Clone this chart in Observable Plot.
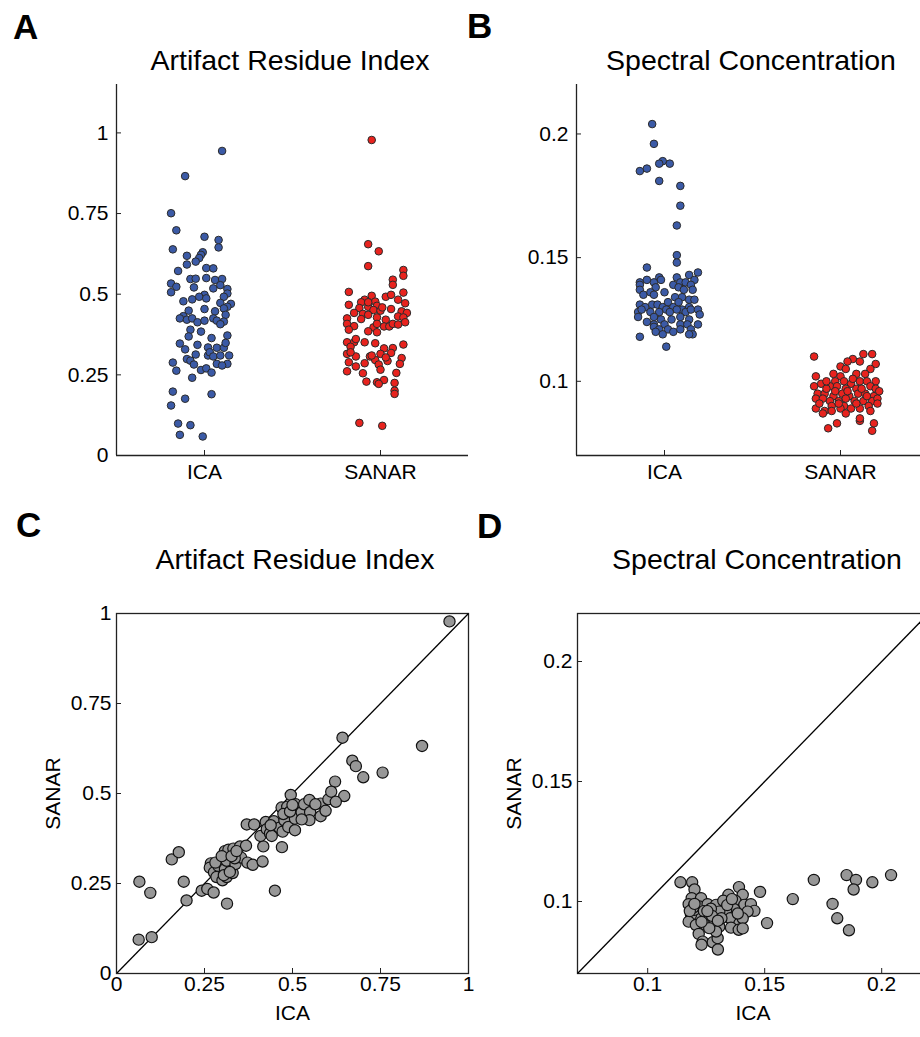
<!DOCTYPE html>
<html>
<head>
<meta charset="utf-8">
<script src="https://cdn.jsdelivr.net/npm/d3@7"></script>
<script src="https://cdn.jsdelivr.net/npm/@observablehq/plot@0.6"></script>
<style>
  html, body { margin: 0; padding: 0; background: #fff; overflow: hidden; }
  #fig { position: relative; width: 920px; height: 1037px; overflow: hidden;
         font-family: "Liberation Sans", Arial, Helvetica, sans-serif; color: #000; }
  .panel { position: absolute; }
  .letter { position: absolute; font-weight: bold; font-size: 35px; line-height: 1; }
  .title { position: absolute; font-size: 28.5px; line-height: 1; white-space: nowrap; transform: translateX(-50%); }
</style>
</head>
<body>
<div id="fig"></div>
<script>
// Method names on the category axis
const methods = ["ICA", "SANAR"];

// Artifact Residue Index per recording: [value, horizontal jitter]
const ariIca = [
  [0.944,0.10],[0.866,-0.11],[0.751,-0.19],[0.698,-0.16],[0.678,0.00],[0.668,0.08],[0.645,0.08],[0.639,-0.18],
  [0.630,-0.01],[0.622,-0.02],[0.619,-0.10],[0.612,-0.03],[0.601,-0.05],[0.592,-0.10],[0.581,0.01],[0.580,0.05],
  [0.572,-0.15],[0.547,-0.08],[0.548,-0.05],[0.550,0.01],[0.544,0.06],[0.547,0.10],[0.533,-0.19],[0.523,-0.16],
  [0.506,-0.19],[0.521,-0.06],[0.518,0.05],[0.528,0.09],[0.516,0.13],[0.502,0.13],[0.498,0.00],[0.492,-0.03],
  [0.484,-0.07],[0.487,0.01],[0.492,0.11],[0.478,-0.12],[0.473,0.09],[0.470,0.15],[0.461,0.13],[0.456,0.11],
  [0.449,-0.09],[0.447,0.06],[0.454,0.00],[0.436,0.12],[0.432,-0.12],[0.425,-0.14],[0.421,-0.10],[0.425,-0.07],
  [0.413,-0.04],[0.418,0.00],[0.425,0.05],[0.418,0.07],[0.415,0.11],[0.407,0.09],[0.390,-0.08],[0.369,-0.09],
  [0.384,-0.02],[0.372,0.13],[0.364,0.04],[0.347,-0.14],[0.329,-0.11],[0.343,-0.04],[0.335,0.02],[0.334,0.07],
  [0.334,0.11],[0.349,0.12],[0.299,-0.10],[0.313,-0.05],[0.310,0.02],[0.320,0.03],[0.307,0.05],[0.294,-0.08],
  [0.282,-0.06],[0.310,0.09],[0.310,0.14],[0.284,0.13],[0.284,0.07],[0.279,0.10],[0.288,-0.18],[0.263,-0.16],
  [0.265,-0.02],[0.270,0.01],[0.257,0.04],[0.241,-0.07],[0.198,-0.18],[0.190,0.04],[0.176,-0.11],[0.155,-0.19],
  [0.099,-0.15],[0.094,-0.08],[0.064,-0.14],[0.059,-0.01]
];
const ariSanar = [
  [0.978,-0.05],[0.655,-0.07],[0.633,-0.01],[0.587,-0.07],[0.575,0.13],[0.557,0.13],[0.545,0.07],[0.529,0.07],
  [0.507,-0.18],[0.505,0.13],[0.495,-0.05],[0.492,0.03],[0.498,0.06],[0.483,-0.09],[0.477,-0.03],[0.483,0.10],
  [0.475,-0.11],[0.467,-0.18],[0.472,0.14],[0.457,-0.12],[0.461,-0.07],[0.464,-0.02],[0.451,-0.04],[0.449,0.00],
  [0.454,0.06],[0.447,0.12],[0.442,0.15],[0.442,-0.15],[0.439,-0.10],[0.436,-0.07],[0.428,-0.02],[0.425,-0.19],
  [0.421,0.03],[0.431,0.10],[0.428,0.13],[0.408,-0.19],[0.401,-0.15],[0.397,-0.04],[0.400,0.02],[0.400,0.05],
  [0.408,0.07],[0.406,0.10],[0.413,0.14],[0.390,-0.18],[0.385,-0.07],[0.382,-0.02],[0.351,-0.19],[0.351,-0.15],
  [0.351,-0.09],[0.348,-0.03],[0.344,0.13],[0.337,-0.17],[0.332,0.02],[0.333,0.07],[0.315,-0.19],[0.307,-0.14],
  [0.307,-0.06],[0.315,0.00],[0.318,0.06],[0.289,-0.18],[0.286,-0.09],[0.296,-0.03],[0.282,-0.01],[0.293,0.04],
  [0.302,0.12],[0.284,0.11],[0.276,-0.14],[0.261,-0.19],[0.266,0.00],[0.255,-0.10],[0.256,0.09],[0.229,-0.08],
  [0.227,-0.02],[0.234,0.02],[0.222,-0.01],[0.225,0.08],[0.201,0.08],[0.191,0.08],[0.101,-0.12],[0.092,0.01],
  [0.475,-0.07],[0.361,-0.14],[0.310,-0.05],[0.304,0.03],[0.320,-0.17],[0.408,-0.02],[0.423,-0.11],[0.459,0.01]
];

// Spectral Concentration per recording: [value, horizontal jitter]
const scIca = [
  [0.204,-0.07],[0.196,-0.06],[0.189,-0.01],[0.188,-0.03],[0.188,0.03],[0.186,-0.10],[0.185,-0.14],[0.181,-0.03],
  [0.179,0.09],[0.171,0.09],[0.163,0.07],[0.151,0.07],[0.148,0.07],[0.146,-0.10],[0.144,0.19],[0.143,0.14],
  [0.142,0.07],[0.142,-0.03],[0.140,-0.14],[0.141,-0.10],[0.140,-0.06],[0.141,-0.02],[0.139,0.05],[0.140,0.09],
  [0.140,0.12],[0.141,0.17],[0.139,0.15],[0.139,-0.14],[0.137,-0.14],[0.138,-0.05],[0.138,0.08],[0.137,0.11],
  [0.137,0.16],[0.135,-0.12],[0.136,-0.08],[0.135,-0.06],[0.136,0.00],[0.134,0.06],[0.134,0.10],[0.133,0.14],
  [0.133,0.17],[0.131,-0.14],[0.130,-0.11],[0.131,-0.07],[0.131,-0.04],[0.130,-0.01],[0.132,0.02],[0.130,0.05],
  [0.132,0.08],[0.129,0.10],[0.130,0.14],[0.128,-0.15],[0.129,-0.13],[0.128,-0.08],[0.128,-0.03],[0.129,0.01],
  [0.128,0.03],[0.129,0.07],[0.128,0.12],[0.129,0.15],[0.129,0.19],[0.127,0.20],[0.126,-0.15],[0.126,-0.06],
  [0.125,-0.02],[0.125,0.04],[0.126,0.09],[0.125,0.14],[0.124,-0.10],[0.123,-0.06],[0.123,0.00],[0.123,0.09],
  [0.123,0.13],[0.123,0.19],[0.122,-0.06],[0.121,-0.03],[0.121,0.02],[0.120,0.05],[0.121,0.09],[0.121,0.15],
  [0.120,-0.05],[0.119,-0.01],[0.119,0.16],[0.119,0.14],[0.118,-0.14],[0.114,0.01]
];
const scSanar = [
  [0.110,-0.15],[0.111,0.13],[0.111,0.18],[0.109,0.07],[0.108,0.04],[0.108,0.11],[0.107,0.20],[0.106,0.00],
  [0.105,0.03],[0.105,0.17],[0.103,-0.04],[0.103,0.09],[0.103,0.14],[0.102,-0.14],[0.102,0.00],[0.100,0.20],
  [0.100,-0.03],[0.100,0.02],[0.099,0.06],[0.100,0.11],[0.100,0.15],[0.098,-0.15],[0.099,-0.11],[0.098,-0.06],
  [0.098,-0.02],[0.097,0.03],[0.097,0.09],[0.098,0.17],[0.097,0.20],[0.095,-0.13],[0.095,-0.09],[0.094,-0.04],
  [0.095,0.01],[0.094,0.05],[0.095,0.10],[0.095,0.14],[0.094,0.19],[0.093,-0.14],[0.093,-0.10],[0.092,-0.06],
  [0.092,-0.01],[0.093,0.03],[0.092,0.08],[0.092,0.13],[0.092,0.18],[0.093,0.21],[0.090,-0.05],[0.090,0.02],
  [0.089,0.06],[0.089,0.11],[0.090,0.16],[0.089,-0.14],[0.088,-0.09],[0.088,-0.05],[0.089,0.00],[0.088,0.17],
  [0.087,-0.10],[0.084,0.11],[0.085,0.11],[0.083,-0.02],[0.083,0.19],[0.081,-0.07],[0.080,0.18],
  [0.097,-0.08],[0.096,0.04],[0.097,0.12],[0.101,0.07],[0.096,-0.03],[0.096,0.22],[0.091,-0.12],[0.087,0.03],
  [0.100,-0.08],[0.091,-0.01],[0.091,0.09],[0.094,0.15],[0.091,0.21]
];

// Paired recordings: [ICA, SANAR]
const ariPairs = [
  [0.946,0.978],[0.642,0.655],[0.868,0.632],[0.670,0.591],[0.680,0.576],[0.701,0.545],[0.756,0.558],[0.621,0.533],
  [0.063,0.094],[0.100,0.101],[0.065,0.255],[0.096,0.224],[0.157,0.317],[0.177,0.337],[0.191,0.255],[0.199,0.203],
  [0.242,0.230],[0.258,0.235],[0.276,0.225],[0.314,0.194],[0.450,0.230],[0.268,0.306],[0.265,0.294],[0.277,0.281],
  [0.284,0.268],[0.301,0.259],[0.313,0.268],[0.289,0.299],[0.308,0.290],[0.330,0.279],[0.313,0.313],[0.338,0.304],
  [0.308,0.340],[0.318,0.344],[0.332,0.347],[0.351,0.353],[0.368,0.355],[0.354,0.322],[0.336,0.320],[0.372,0.308],
  [0.387,0.302],[0.415,0.311],[0.417,0.353],[0.470,0.351],[0.370,0.414],[0.391,0.414],[0.409,0.382],[0.424,0.421],
  [0.427,0.401],[0.436,0.389],[0.441,0.382],[0.447,0.423],[0.463,0.405],[0.472,0.394],[0.477,0.425],[0.488,0.407],
  [0.495,0.496],[0.469,0.461],[0.485,0.463],[0.509,0.470],[0.507,0.430],[0.507,0.398],[0.526,0.448],[0.533,0.470],
  [0.548,0.482],[0.550,0.448],[0.548,0.426],[0.526,0.428],[0.580,0.437],[0.580,0.472],[0.594,0.452],[0.602,0.484],
  [0.610,0.505],[0.647,0.493],[0.565,0.470],[0.474,0.443],[0.493,0.450],[0.438,0.412],[0.281,0.308],[0.299,0.326],
  [0.327,0.326],[0.341,0.340],[0.305,0.273],[0.322,0.282],[0.623,0.477],[0.500,0.468]
];
const scPairs = [
  [0.114,0.108],[0.119,0.108],[0.120,0.105],[0.139,0.106],[0.148,0.104],[0.162,0.101],[0.171,0.109],[0.185,0.111],
  [0.189,0.109],[0.188,0.105],[0.196,0.108],[0.204,0.111],[0.179,0.099],[0.181,0.093],[0.186,0.088],[0.151,0.091],
  [0.1345,0.1028],[0.1406,0.1028],[0.1188,0.1014],[0.1228,0.1014],[0.1175,0.0989],[0.1221,0.0979],[0.1256,0.0989],
  [0.1292,0.0986],[0.1323,0.1003],[0.1375,0.1003],[0.1413,0.0986],[0.1441,0.0989],[0.1456,0.0961],[0.1427,0.0958],
  [0.1370,0.0968],[0.1335,0.0965],[0.1285,0.0951],[0.1252,0.0937],[0.1218,0.0933],[0.1185,0.0944],[0.1175,0.0916],
  [0.1206,0.0902],[0.1242,0.0905],[0.1285,0.0909],[0.1306,0.0895],[0.1353,0.0930],[0.1392,0.0909],[0.1406,0.0930],
  [0.1356,0.0891],[0.1389,0.0882],[0.1406,0.0888],[0.1218,0.0865],[0.1235,0.0833],[0.1278,0.0830],[0.1299,0.0847],
  [0.1292,0.0875],[0.1263,0.0889],[0.1199,0.0965],[0.1306,0.0958],[0.130,0.080],[0.123,0.082],
  [0.1195,0.0975],[0.1240,0.0960],[0.1270,0.0970],[0.1275,0.0940],[0.1315,0.0930],[0.1340,0.0985],[0.1385,0.0950],
  [0.1360,0.1010],[0.1230,0.0915],[0.1180,0.0960],[0.1300,0.0920],[0.1200,0.0990],[0.1255,0.0960]
];

// Axis limits and tick values
const ariLimits = [0, 1];
const ariStripDomain = [0, 1.15];
const ariTicks = [0, 0.25, 0.5, 0.75, 1];
const scLimits = [0.07, 0.22];
const scTicks = [0.1, 0.15, 0.2];

const FONT = '"Liberation Sans", Arial, Helvetica, sans-serif';
const INK = "#222";
const fig = document.getElementById("fig");

function place(node, left, top) {
  node.classList.add("panel");
  node.style.left = left + "px";
  node.style.top = top + "px";
  fig.appendChild(node);
}
function addText(cls, text, left, top) {
  const d = document.createElement("div");
  d.className = cls;
  d.textContent = text;
  d.style.left = left + "px";
  d.style.top = top + "px";
  fig.appendChild(d);
}

// Strip plot of both methods, jittered around category positions 1 and 2
function strip({ica, sanar, domain, ticks, width, marginRight}) {
  const rows = [
    ...ica.map(([v, j]) => ({pos: 1, jitter: j, value: v, method: "ICA"})),
    ...sanar.map(([v, j]) => ({pos: 2, jitter: j, value: v, method: "SANAR"}))
  ];
  return Plot.plot({
    width, height: 490,
    marginLeft: 116, marginTop: 84, marginBottom: 35, marginRight,
    x: {domain: [0.5, 2.5]},
    y: {domain},
    style: {fontFamily: FONT, fontSize: "21px", color: "#000", background: "transparent", overflow: "visible"},
    marks: [
      Plot.ruleX([0.5], {stroke: INK, strokeWidth: 1.3}),
      Plot.ruleY([domain[0]], {stroke: INK, strokeWidth: 1.3}),
      Plot.axisX({ticks: [1, 2], tickFormat: (i) => methods[i - 1], tickSize: -5, tickPadding: 14, label: null, stroke: INK}),
      Plot.axisY({ticks, tickFormat: (d) => String(d), tickSize: -5, tickPadding: 13, label: null, stroke: INK}),
      Plot.dot(rows, {
        x: (d) => d.pos + d.jitter, y: "value", r: 3.8,
        fill: (d) => d.method === "ICA" ? "#3b5aa6" : "#e8231e",
        stroke: "#2b2b2b", strokeWidth: 1
      })
    ]
  });
}

// Paired scatter with identity line
function scatter({pairs, limits, ticks, marginLeft, width}) {
  return Plot.plot({
    width, height: 477,
    marginLeft, marginTop: 53, marginBottom: 64, marginRight: 12,
    x: {domain: limits},
    y: {domain: limits},
    style: {fontFamily: FONT, fontSize: "21px", color: "#000", background: "transparent", overflow: "visible"},
    marks: [
      Plot.frame({stroke: INK, strokeWidth: 1.3}),
      Plot.link([limits], {x1: (d) => d[0], y1: (d) => d[0], x2: (d) => d[1], y2: (d) => d[1], stroke: "#000", strokeWidth: 1.3}),
      Plot.axisX({ticks, tickFormat: (d) => String(d), tickSize: -5, tickPadding: 8, label: "ICA", labelArrow: "none",
                  labelAnchor: "center", labelOffset: 46, stroke: INK}),
      Plot.axisY({ticks, tickFormat: (d) => String(d), tickSize: -5, tickPadding: 10, label: "SANAR", labelArrow: "none",
                  labelAnchor: "center", labelOffset: 71, stroke: INK}),
      Plot.dot(pairs, {x: (d) => d[0], y: (d) => d[1], r: 5.6, fill: "#979797", stroke: "#111", strokeWidth: 1.2})
    ]
  });
}

place(strip({ica: ariIca, sanar: ariSanar, domain: ariStripDomain, ticks: ariTicks, width: 470, marginRight: 2}), 0, 0);
place(strip({ica: scIca, sanar: scSanar, domain: scLimits, ticks: scTicks, width: 480, marginRight: 12}), 460, 0);
place(scatter({pairs: ariPairs, limits: ariLimits, ticks: ariTicks, marginLeft: 116, width: 480}), 0, 560);
place(scatter({pairs: scPairs, limits: scLimits, ticks: scTicks, marginLeft: 97, width: 460}), 480, 560);

addText("letter", "A", 13, 9);
addText("letter", "B", 467, 8);
addText("letter", "C", 16, 507);
addText("letter", "D", 477, 508);
addText("title", "Artifact Residue Index", 290, 46);
addText("title", "Spectral Concentration", 751, 46);
addText("title", "Artifact Residue Index", 295, 545);
addText("title", "Spectral Concentration", 757, 545);
</script>
</body>
</html>
